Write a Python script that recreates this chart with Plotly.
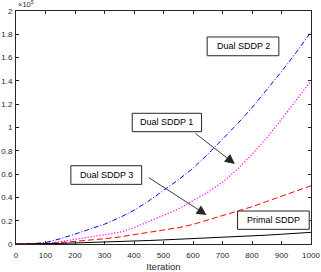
import plotly.graph_objects as go

iterations = [0, 50, 100, 150, 200, 250, 300, 350, 400, 450, 500, 550, 600, 650, 700, 750, 800, 850, 900, 950, 1000]

# values in units of 1e5
dual_sddp_2 = [0, 0.002, 0.012, 0.045, 0.085, 0.125, 0.17, 0.225, 0.29, 0.37, 0.46, 0.55, 0.65, 0.77, 0.90, 1.03, 1.17, 1.32, 1.48, 1.645, 1.82]
dual_sddp_1 = [0, 0.001, 0.005, 0.02, 0.04, 0.055, 0.075, 0.10, 0.14, 0.19, 0.245, 0.30, 0.37, 0.445, 0.53, 0.64, 0.77, 0.91, 1.07, 1.23, 1.40]
dual_sddp_3 = [0, 0.001, 0.004, 0.012, 0.022, 0.032, 0.045, 0.06, 0.08, 0.098, 0.115, 0.14, 0.168, 0.205, 0.245, 0.28, 0.32, 0.365, 0.41, 0.455, 0.50]
primal_sddp = [0, 0.0, 0.001, 0.005, 0.009, 0.012, 0.016, 0.02, 0.025, 0.03, 0.035, 0.04, 0.046, 0.051, 0.057, 0.063, 0.069, 0.076, 0.084, 0.092, 0.10]

x_ticks = [0, 100, 200, 300, 400, 500, 600, 700, 800, 900, 1000]
y_ticks = [0, 0.2, 0.4, 0.6, 0.8, 1.0, 1.2, 1.4, 1.6, 1.8, 2.0]

box_labels = ["Dual SDDP 2", "Dual SDDP 1", "Dual SDDP 3", "Primal SDDP"]

axis_color = "#262626"
font_family = "Liberation Sans, Arial, sans-serif"

fig = go.Figure()
fig.add_trace(go.Scatter(x=iterations, y=dual_sddp_2, mode="lines", name="Dual SDDP 2",
                         line=dict(color="#0000ff", width=1, dash="5px,2px,1px,2px")))
fig.add_trace(go.Scatter(x=iterations, y=dual_sddp_1, mode="lines", name="Dual SDDP 1",
                         line=dict(color="#ff00ff", width=1.2, dash="1.2px,1.8px")))
fig.add_trace(go.Scatter(x=iterations, y=dual_sddp_3, mode="lines", name="Dual SDDP 3",
                         line=dict(color="#ff0000", width=1, dash="6px,3px")))
fig.add_trace(go.Scatter(x=iterations, y=primal_sddp, mode="lines", name="Primal SDDP",
                         line=dict(color="#000000", width=1)))

# text boxes (x0, x1, y0, y1 in axis units)
box_extents = [(648, 891, 1.616, 1.777), (394, 629, 0.964, 1.122),
               (186, 426, 0.512, 0.672), (751, 994, 0.126, 0.283)]
for label, (bx0, bx1, by0, by1) in zip(box_labels, box_extents):
    fig.add_shape(type="rect", xref="x", yref="y", x0=bx0, x1=bx1, y0=by0, y1=by1,
                  line=dict(color="#262626", width=1), fillcolor="white", layer="above")
    fig.add_annotation(text=label, x=(bx0 + bx1) / 2, y=(by0 + by1) / 2, xref="x", yref="y",
                       showarrow=False, xanchor="center", yanchor="middle",
                       font=dict(size=9, color="#000000", family=font_family))

arrow_style = dict(text="", showarrow=True, arrowhead=2, arrowsize=2.2, arrowwidth=0.9,
                   arrowcolor="#262626", xref="x", yref="y", axref="x", ayref="y")
fig.add_annotation(x=742, y=0.687, ax=603, ay=0.959, **arrow_style)
fig.add_annotation(x=646, y=0.249, ax=445, ay=0.578, **arrow_style)

fig.add_annotation(text="×10<sup>5</sup>", x=0, y=1, xref="paper", yref="paper",
                   xanchor="left", yanchor="bottom", showarrow=False, yshift=0,
                   font=dict(size=7.5, color=axis_color, family=font_family))

common_axis = dict(showline=True, linecolor=axis_color, linewidth=1, mirror="ticks",
                   ticks="inside", ticklen=3, tickcolor=axis_color, tickwidth=1,
                   showgrid=False, zeroline=False, ticklabeloverflow="allow", automargin=False,
                   tickfont=dict(size=8, color=axis_color, family=font_family))

fig.update_xaxes(range=[0, 1000], tickvals=x_ticks, ticktext=[str(v) for v in x_ticks],
                 ticklabelstandoff=3,
                 title=dict(text="Iteration", font=dict(size=9.5, color=axis_color, family=font_family), standoff=5),
                 **common_axis)
fig.update_yaxes(range=[0, 2], tickvals=y_ticks, ticktext=[f"{v:g}" for v in y_ticks],
                 ticklabelstandoff=1, **common_axis)

fig.update_layout(width=321, height=272, margin=dict(l=16, r=10, t=11, b=28),
                  paper_bgcolor="white", plot_bgcolor="white", showlegend=False,
                  font=dict(family=font_family))

fig.write_html("out.html", config={"displayModeBar": False},
               post_script="document.body.style.margin='0';")
